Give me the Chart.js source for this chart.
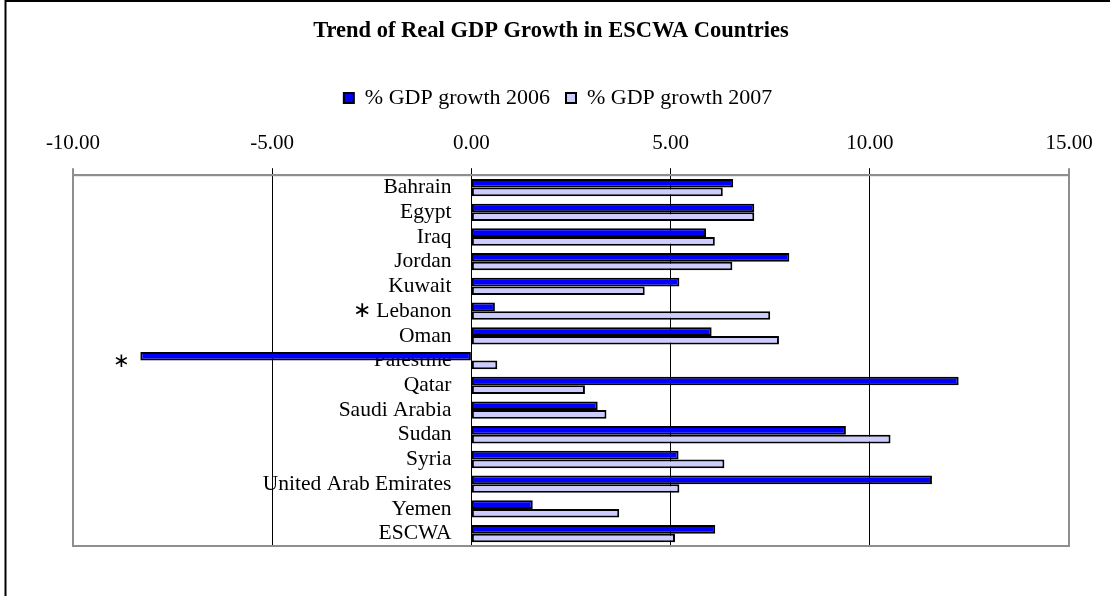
<!DOCTYPE html>
<html>
<head>
<meta charset="utf-8">
<script src="https://cdn.jsdelivr.net/npm/chart.js@4/dist/chart.umd.min.js"></script>
<style>
  html, body { margin: 0; padding: 0; background: #fff; }
  #wrap { width: 1110px; height: 596px; position: relative; }
</style>
</head>
<body>
<div id="wrap"><canvas id="c" width="1110" height="596"></canvas></div>
<script>
// Real GDP growth (%), ESCWA member countries
const categories = ['Bahrain', 'Egypt', 'Iraq', 'Jordan', 'Kuwait', 'Lebanon', 'Oman', 'Palestine',
  'Qatar', 'Saudi Arabia', 'Sudan', 'Syria', 'United Arab Emirates', 'Yemen', 'ESCWA'];
const growth2006 = [6.57, 7.10, 5.89, 7.98, 5.22, 0.59, 6.03, -8.31, 12.23, 3.17, 9.40, 5.20, 11.56, 1.54, 6.12];
const growth2007 = [6.31, 7.10, 6.11, 6.55, 4.35, 7.50, 7.72, 0.65, 2.85, 3.39, 10.52, 6.35, 5.22, 3.71, 5.11];
const xTickValues = [-10, -5, 0, 5, 10, 15];
const seriesNames = ['% GDP growth 2006', '% GDP growth 2007'];
const footnoted = ['Lebanon', 'Palestine'];

const SERIF = '"Liberation Serif", "Times New Roman", serif';
const EDGE_GREY = '#8e8e8e';
const isEdge = c => c.tick && (c.tick.value === xTickValues[0] || c.tick.value === xTickValues[xTickValues.length - 1]);

// Outer frame, plot-area border, header centring and the footnote mark for Palestine
const framePlugin = {
  id: 'frame',
  afterLayout(chart) {
    // centre the title and legend on the page rather than on the plot area
    const shifts = [[chart.titleBlock, -20], [chart.legend, -13]];
    for (const [box, dx] of shifts) {
      if (box) { box.left += dx; box.right += dx; }
    }
  },
  beforeDraw(chart) {
    const ctx = chart.ctx;
    ctx.save();
    ctx.strokeStyle = '#000';
    ctx.lineWidth = 2;
    ctx.beginPath();
    ctx.moveTo(5.5, chart.height);
    ctx.lineTo(5.5, 1);
    ctx.lineTo(chart.width, 1);
    ctx.stroke();
    ctx.restore();
  },
  beforeDatasetsDraw(chart) {
    const {ctx, chartArea: a} = chart;
    ctx.save();
    ctx.strokeStyle = EDGE_GREY;
    ctx.lineWidth = 2;
    ctx.strokeRect(a.left, a.top, a.right - a.left, a.bottom - a.top);
    ctx.restore();
  },
  afterDatasetsDraw(chart) {
    const {ctx, scales: {x, y}} = chart;
    const i = categories.indexOf(footnoted[1]);
    const minVal = Math.min(growth2006[i], growth2007[i]);
    ctx.save();
    ctx.fillStyle = '#000';
    ctx.font = '20px ' + SERIF;
    ctx.textAlign = 'center';
    ctx.textBaseline = 'middle';
    ctx.fillText('\u2217', x.getPixelForValue(minVal) - 19, y.getPixelForValue(i) + 1);
    ctx.restore();
  }
};

const barStyle = {
  borderColor: '#000',
  borderWidth: 2,
  borderSkipped: false,
  barPercentage: 1.0,
  categoryPercentage: 0.7
};

const chart = new Chart(document.getElementById('c'), {
  type: 'bar',
  data: {
    labels: categories,
    datasets: [
      Object.assign({ label: seriesNames[0], data: growth2006, backgroundColor: '#0000ff' }, barStyle),
      Object.assign({ label: seriesNames[1], data: growth2007, backgroundColor: '#ccccff' }, barStyle)
    ]
  },
  options: {
    indexAxis: 'y',
    responsive: false,
    animation: false,
    layout: { padding: { left: 73, right: 41, top: 0, bottom: 50 } },
    plugins: {
      title: {
        display: true,
        text: 'Trend of Real GDP Growth in ESCWA Countries',
        color: '#000',
        font: { family: SERIF, size: 22.5, weight: 'bold' },
        padding: { top: 18, bottom: 26 }
      },
      legend: {
        display: true,
        position: 'top',
        labels: {
          color: '#000',
          font: { family: SERIF, size: 22 },
          boxWidth: 10,
          boxHeight: 10,
          padding: 16
        }
      },
      tooltip: { enabled: false }
    },
    scales: {
      x: {
        position: 'top',
        min: xTickValues[0],
        max: xTickValues[xTickValues.length - 1],
        afterBuildTicks(scale) {
          scale.ticks = xTickValues.map(v => ({ value: v }));
        },
        ticks: {
          color: '#000',
          font: { family: SERIF, size: 21 },
          padding: 12,
          maxRotation: 0,
          callback: v => Number(v).toFixed(2)
        },
        grid: {
          drawOnChartArea: true,
          drawTicks: true,
          tickLength: 7,
          color: c => isEdge(c) ? EDGE_GREY : '#000',
          lineWidth: c => isEdge(c) ? 2 : 1
        },
        border: { display: true, color: EDGE_GREY, width: 2 }
      },
      y: {
        // category labels sit just left of the zero line
        position: { x: -0.5 },
        ticks: {
          color: '#000',
          font: { family: SERIF, size: 21.5 },
          autoSkip: false,
          callback: (v, i) => categories[i] === footnoted[0] ? '\u2217 ' + categories[i] : categories[i]
        },
        grid: { display: false, drawTicks: false, tickLength: 0 },
        border: { display: false }
      }
    }
  },
  plugins: [framePlugin]
});
</script>
</body>
</html>
